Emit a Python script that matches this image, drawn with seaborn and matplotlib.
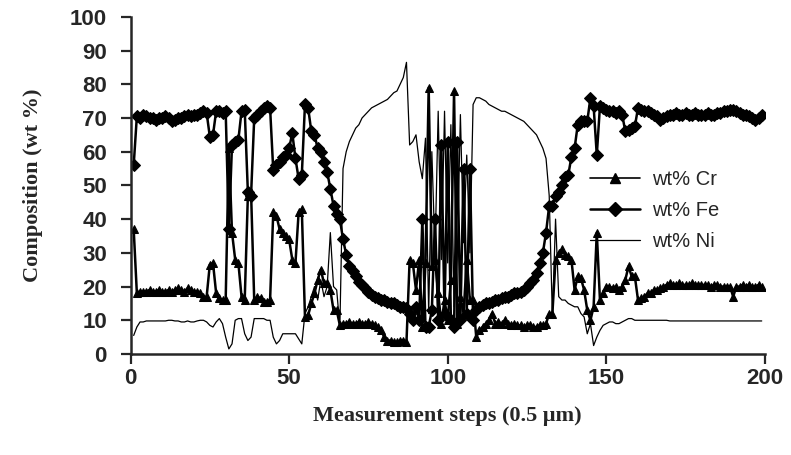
import numpy as np
import pandas as pd
import seaborn as sns
import matplotlib
matplotlib.use("Agg")
import matplotlib.pyplot as plt
from matplotlib.lines import Line2D

fe = [56, 70.5, 70, 71, 70.5, 70, 70, 69.5, 70, 70,
      70.5, 70, 69, 69.5, 70, 70, 70.5, 71, 70.5, 71,
      71, 71.5, 72, 71.5, 64.5, 65, 72, 72, 71.5, 72,
      37, 62, 63, 63.5, 72, 72.5, 48, 47, 70, 71,
      72, 73, 73.5, 73, 54.5, 56, 57, 58.5, 59, 61,
      65.5, 58, 52, 53, 74, 73, 66, 65, 61, 60,
      57, 54, 49, 44, 41.5, 40, 34, 29.5, 26, 24.5,
      23, 21.5, 20.5, 19.5, 18.5, 17.5, 17, 16.5, 16, 16,
      15.5, 15, 15, 14.5, 14, 14, 13.5, 12, 10, 14,
      10, 40, 8, 8, 13, 40, 10, 62, 12, 63,
      10, 8, 63, 10, 55, 12, 55, 10, 13, 14,
      14.5, 15, 15, 15.5, 16, 16, 16.5, 17, 17, 17.5,
      18, 18, 18.5, 19, 20, 21, 22, 24, 27, 30,
      36, 44, 44, 47, 48, 50, 52.5, 53, 58.5, 61,
      68, 69, 69, 69, 76, 73.5, 59, 73.5, 73, 72.5,
      72, 72, 71.5, 72, 71, 66, 66.5, 67, 67.5, 73,
      72.5, 72, 72, 71.5, 71, 70.5, 69.5, 70, 70.5, 71,
      71, 71.5, 71, 71, 71.5, 71, 71, 71.5, 71, 71,
      71, 71.5, 71, 71, 71.5, 71.5, 72, 72, 72.5, 72.5,
      72, 71.5, 71, 71, 70.5, 70, 69.5, 70, 71]

cr = [37, 18, 18.5, 18.5, 18.5, 19, 18.5, 18.5, 19, 18.5,
      18.5, 19, 18.5, 19, 19.5, 19, 18.5, 19.5, 19, 18.5,
      18.5, 18, 17, 17, 26.5, 27, 18, 16.5, 16, 16,
      61, 36, 28, 27, 17, 16, 47, 48, 16, 17,
      16.5, 15.5, 15.5, 16, 42, 41, 37, 36, 35, 34,
      28, 27, 42, 43, 11, 11.5, 15, 18, 22, 25,
      21, 21, 19, 13, 13, 8.5, 9, 9, 9.5, 9,
      9, 9.5, 9, 9, 9.5, 9, 8.5, 8, 7, 5,
      4, 4, 3.5, 3.5, 4, 4, 3.5, 28, 27, 19,
      28, 8, 27, 79, 26, 28, 18, 9, 16, 10,
      22, 78, 9, 17, 12, 28, 16, 16, 5, 7,
      8, 9, 10, 12, 9, 9.5, 9, 10, 9, 8.5,
      9, 8.5, 8.5, 8, 8.5, 8.5, 8, 8, 8.5, 8.5,
      9, 12, 12, 28, 30, 31, 29.5, 29, 28, 19,
      23, 22.5, 19, 13, 10, 14, 36, 16, 18, 20,
      20, 19.5, 20, 19, 20, 22, 26, 23, 23, 16,
      16.5, 17, 18, 18, 19, 19, 19.5, 20, 20.5, 21,
      20.5, 20.5, 21, 20.5, 20.5, 20.5, 21, 20.5, 20.5, 20.5,
      20.5, 20.5, 20, 20.5, 20.5, 20, 20, 20, 20, 17,
      20, 20, 20.5, 20, 20.5, 20, 20, 20.5, 20]

ni = [5.5, 8, 9.5, 9.5, 9.8, 9.8, 9.8, 9.8, 9.8, 9.8,
      9.8, 10, 10, 9.8, 9.8, 9.5, 9.5, 9.8, 9.5, 9.5,
      9.8, 10, 10, 9.5, 8.5, 8, 9.5, 10.5, 9, 5,
      1.5, 3, 10, 10.5, 10.5, 6, 4, 5, 10.5, 10.5,
      10.5, 10.5, 10, 10, 5, 3, 4, 6, 6, 6,
      6, 6, 4.5, 3, 12, 14, 17, 20, 16, 22,
      17, 20, 36, 20, 19, 8, 55, 60, 63, 65,
      67, 68, 70, 71, 72, 73, 73.5, 74, 74.5, 75,
      75.5, 76.5, 77.5, 78, 80, 82, 86.5, 62, 63, 65,
      57, 52, 64, 12, 60, 30, 72, 28, 72, 27,
      68, 14, 28, 71, 33, 59, 30, 74, 76, 76,
      75.5, 75, 74, 73.5, 73, 72.5, 72, 72, 71.5, 71,
      70.5, 70, 69.5, 69, 68, 67, 66, 65, 63, 61,
      58, 47, 11, 40, 17, 16, 16, 15, 14.5, 14,
      14, 12, 11, 6, 9, 2.5, 5, 7, 8.5, 9,
      9.5, 9.5, 9, 9, 9.5, 10, 10.5, 10.5, 10, 10,
      10, 10, 10, 10, 10, 10, 10, 10, 10, 9.8,
      9.8, 9.8, 9.8, 9.8, 9.8, 9.8, 9.8, 9.8, 9.8, 9.8,
      9.8, 9.8, 9.8, 9.8, 9.8, 9.8, 9.8, 9.8, 9.8, 9.8,
      9.8, 9.8, 9.8, 9.8, 9.8, 9.8, 9.8, 9.8, 9.8]

labels = ["wt% Cr", "wt% Fe", "wt% Ni"]

sns.set_style("ticks")
plt.rcParams['font.family'] = ['Liberation Sans', 'DejaVu Sans']

fig = plt.figure(figsize=(7.91, 4.55), dpi=100)
ax = fig.add_axes([0.165, 0.222, 0.802, 0.741])

series = [(cr, '^', 6, 1.8), (fe, 'D', 6.5, 1.8), (ni, None, 0, 0.9)]
for (vals, mk, ms, lw), lab in zip(series, labels):
    d = pd.DataFrame({'step': np.arange(1, len(vals) + 1), 'wt': vals})
    sns.lineplot(data=d, x='step', y='wt', ax=ax, color='black',
                 marker=mk, markersize=ms, markeredgecolor='black',
                 linewidth=lw, label=lab, legend=False)

ax.set_xlim(0, 200)
ax.set_ylim(0, 100)
ax.set_xticks(np.arange(0, 201, 50))
ax.set_yticks(np.arange(0, 101, 10))
ax.tick_params(labelsize=16, length=7, width=1.6)
ax.tick_params(axis='x', pad=3)
ax.tick_params(axis='y', pad=10)
for t in ax.get_xticklabels() + ax.get_yticklabels():
    t.set_fontweight('bold')
for s in ['left', 'bottom']:
    ax.spines[s].set_linewidth(1.8)
sns.despine(ax=ax)

ax.set_xlabel("Measurement steps (0.5 μm)", family='Liberation Serif',
              fontweight='bold', fontsize=16, labelpad=12)
ax.set_ylabel("Composition (wt %)", family='Liberation Serif',
              fontweight='bold', fontsize=16, labelpad=19)

handles = [Line2D([], [], color='black', marker='^', markersize=7, lw=1.2),
           Line2D([], [], color='black', marker='D', markersize=7, lw=1.8),
           Line2D([], [], color='black', lw=0.9)]
ax.legend(handles, labels, loc='upper left', bbox_to_anchor=(0.724, 0.545),
          frameon=False, fontsize=14.5, handlelength=2.5, handletextpad=0.6,
          labelspacing=0.6, borderaxespad=0, borderpad=0)

fig.savefig("out.png", dpi=100)
